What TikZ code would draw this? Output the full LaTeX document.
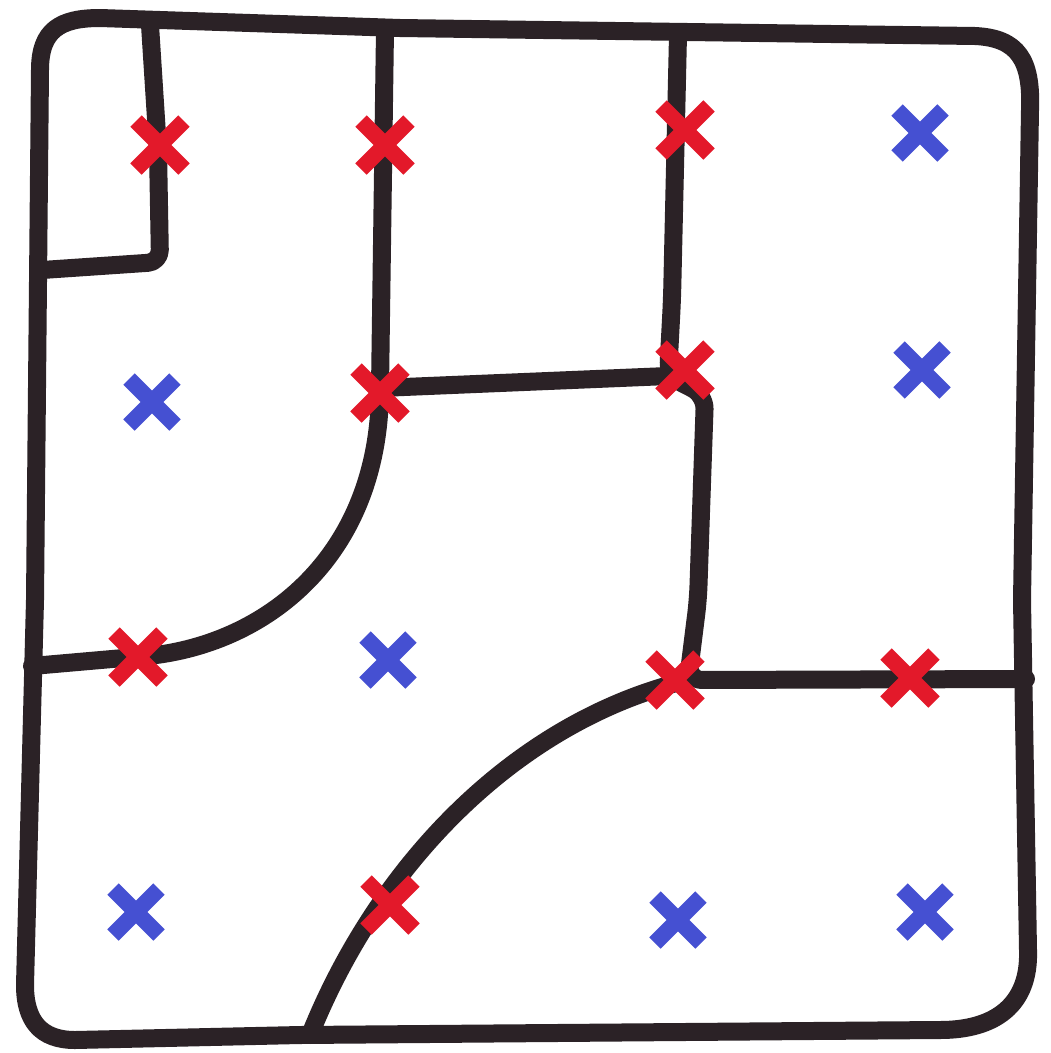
\documentclass[tikz,border=0pt]{standalone}
\usetikzlibrary{shapes.misc}
\definecolor{wallcol}{HTML}{2B2226}
\definecolor{redx}{HTML}{E3192A}
\definecolor{bluex}{HTML}{4550D2}
\tikzset{
  wall/.style={draw=wallcol, line width=18pt, line cap=round, line join=round},
  xred/.style={cross out, draw=redx, line width=16pt, minimum size=32pt, inner sep=0pt},
  xblue/.style={cross out, draw=bluex, line width=16pt, minimum size=30pt, inner sep=0pt}
}
\begin{document}
\begin{tikzpicture}[x=1pt,y=-1pt]
\useasboundingbox (0,0) rectangle (1051,1053);
\fill[white] (0,0) rectangle (1051,1053);
% outer border
\draw[wall] (40,70) .. controls (40,30) and (60,18) .. (100,18) -- (400,28) -- (975,36)
  .. controls (1018,38) and (1032,60) .. (1030,110) -- (1022,600) -- (1028,950)
  .. controls (1030,1005) and (995,1030) .. (940,1030) -- (300,1035) -- (75,1040)
  .. controls (40,1040) and (25,1020) .. (25,985) -- (35,600) -- cycle;
% junction coordinates
\coordinate (tA) at (150,25);
\coordinate (cA) at (160,262);
\coordinate (lA) at (42,270);
\coordinate (tB) at (385,30);
\coordinate (jB) at (380,388);
\coordinate (tC) at (678,35);
\coordinate (jC) at (668,376);
\coordinate (jD) at (688,680);
\coordinate (rD) at (1026,679);
\coordinate (lE) at (32,666);
\coordinate (mE) at (135,657);
\coordinate (bF) at (310,1035);
% interior walls
\draw[wall, rounded corners=12pt] (tA) -- (158,150) -- (cA) -- (lA);
\draw[wall] (tB) -- (jB) -- (jC);
\draw[wall, rounded corners=14pt] (tC) -- (672,300) -- (jC) -- (705,395) -- (698,600) -- (jD) -- (rD);
\draw[wall] (jB) .. controls (380,560) and (260,650) .. (mE) -- (lE);
\draw[wall] (jD) .. controls (520,720) and (380,860) .. (bF);
% red crosses
\node[xred] (r1) at (160,145) {};
\node[xred] (r2) at (385,145) {};
\node[xred] (r3) at (685,130) {};
\node[xred] (r4) at (380,393) {};
\node[xred] (r5) at (685,370) {};
\node[xred] (r6) at (138,657) {};
\node[xred] (r7) at (675,680) {};
\node[xred] (r8) at (910,678) {};
\node[xred] (r9) at (390,905) {};
% blue crosses
\node[xblue] (b1) at (920,133) {};
\node[xblue] (b2) at (922,370) {};
\node[xblue] (b3) at (152,402) {};
\node[xblue] (b4) at (388,660) {};
\node[xblue] (b5) at (136,912) {};
\node[xblue] (b6) at (678,920) {};
\node[xblue] (b7) at (925,912) {};
\end{tikzpicture}
\end{document}
